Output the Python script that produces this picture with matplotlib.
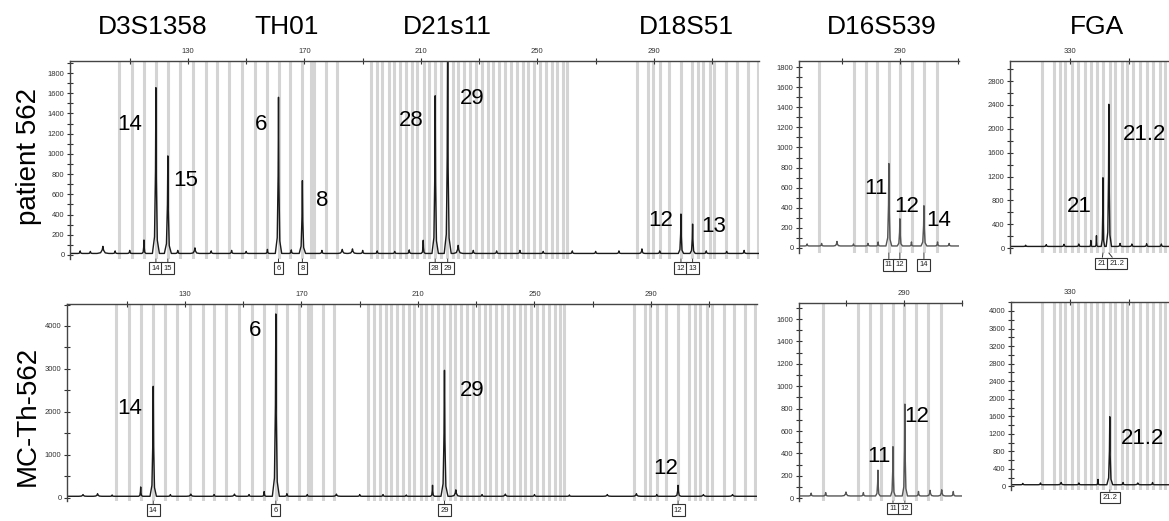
import matplotlib
matplotlib.use("Agg")
import matplotlib.pyplot as plt

plt.rcParams['font.family'] = ['Liberation Sans', 'DejaVu Sans']

W, H = 1169, 521

# ---------------- data ----------------
loci = ["D3S1358", "TH01", "D21s11", "D18S51", "D16S539", "FGA"]
samples = ["patient 562", "MC-Th-562"]

# ladder bins (bp)
bins_main = [106.3, 110.8, 114.9, 119.0, 123.1, 127.3, 131.7, 136.2, 140.0, 144.1, 148.6,
             153.0, 157.1, 161.3, 165.0, 169.2, 172.3, 173.4, 177.4, 181.2,
             192.9, 194.9, 196.8, 198.9, 200.9, 202.8, 204.9, 206.9, 208.8, 210.9, 212.9,
             214.9, 216.8, 218.9, 220.9, 222.8, 224.9, 226.9, 228.8, 230.9, 232.9, 234.8,
             236.9, 238.9, 240.8, 242.9, 244.9, 246.8, 248.9, 250.9, 252.8, 254.9, 256.9,
             258.8, 260.3,
             284.3, 288.1, 289.8, 292.2, 295.3, 299.4, 303.2, 305.2, 307.0, 309.4, 310.8,
             314.9, 318.4, 322.2, 325.6]
bins_d16 = [262.1, 274.1, 278.3, 282.1, 286.2, 290.0, 294.1, 298.3, 302.8]
bins_fga = [320.5, 324.6, 326.6, 328.3, 330.7, 332.7, 335.1, 337.1, 339.2, 341.2, 343.6,
            345.3, 347.6, 349.3, 351.4, 353.7, 356.1, 358.1, 360.5, 362.2, 364.4]

# peaks: position (bp), height (RFU), half width (bp)
top_main_pos = [93.0, 96.5, 100.8, 105.0, 110.0, 114.9, 119.0, 123.1, 126.5, 132.4, 138.0,
                145.0, 150.0, 157.3, 161.1, 165.5, 169.3, 176.0, 183.0, 186.5, 190.0, 195.0,
                201.0, 206.0, 210.8, 214.9, 219.2, 222.8, 228.0, 236.0, 244.0, 252.0, 262.0,
                270.0, 278.0, 285.9, 292.0, 299.3, 303.3, 308.0, 315.0, 321.0]
top_main_h = [25, 20, 70, 25, 30, 133, 1640, 965, 30, 55, 25,
              30, 20, 40, 1545, 35, 720, 30, 40, 45, 30, 25,
              20, 35, 130, 1560, 1900, 80, 30, 25, 30, 20, 25,
              20, 25, 45, 25, 390, 290, 25, 20, 30]
top_main_w = [0.8, 0.8, 2.0, 0.8, 0.8, 0.7, 1.2, 1.2, 0.8, 1.5, 0.8,
              0.8, 0.8, 0.7, 1.1, 0.8, 1.1, 0.8, 1.5, 1.5, 0.8, 0.8,
              0.8, 0.8, 0.7, 1.1, 1.2, 1.6, 0.8, 0.8, 0.8, 0.8, 0.8,
              0.8, 0.8, 1.0, 0.8, 0.9, 0.9, 0.8, 0.8, 0.8]

bot_main_pos = [95.0, 100.0, 105.0, 114.8, 119.1, 125.0, 132.0, 140.0, 147.0, 152.0,
                157.2, 161.2, 165.0, 172.0, 182.0, 190.0, 198.0, 206.0, 215.0, 219.1,
                223.0, 232.0, 240.0, 250.0, 262.0, 275.0, 285.0, 292.0, 299.3, 308.0, 318.0]
bot_main_h = [40, 60, 30, 217, 2563, 40, 50, 40, 50, 40,
              110, 4250, 60, 40, 50, 40, 40, 30, 256, 2936,
              150, 40, 50, 40, 30, 40, 60, 40, 256, 40, 40]
bot_main_w = [1.5, 1.5, 0.8, 0.7, 1.1, 0.8, 1.5, 0.8, 1.5, 0.8,
              0.7, 1.2, 0.8, 0.8, 1.5, 0.8, 0.8, 0.8, 0.7, 1.2,
              1.6, 0.8, 1.5, 0.8, 0.8, 1.5, 1.5, 0.8, 1.0, 1.5, 1.5]

top_d16_pos = [258.0, 263.0, 268.3, 274.0, 279.0, 282.5, 286.2, 290.0, 294.0, 298.3, 303.0, 307.0]
top_d16_h = [20, 25, 45, 20, 25, 40, 820, 270, 40, 400, 40, 25]
top_d16_w = [0.8, 0.8, 1.2, 0.8, 0.8, 0.6, 1.0, 0.9, 0.6, 1.0, 0.8, 0.8]

bot_d16_pos = [258.0, 263.0, 270.0, 276.0, 281.0, 286.2, 290.3, 295.0, 299.0, 303.0, 307.0]
bot_d16_h = [25, 30, 35, 30, 230, 440, 820, 40, 50, 55, 40]
bot_d16_w = [0.8, 0.8, 1.5, 0.8, 0.8, 0.8, 0.9, 0.8, 1.2, 1.2, 0.8]

top_fga_pos = [315.0, 322.0, 328.0, 333.0, 337.1, 339.0, 341.2, 343.2, 347.0, 351.0, 356.0, 361.0]
top_fga_h = [20, 30, 35, 40, 100, 180, 1150, 2380, 50, 40, 45, 40]
top_fga_w = [0.8, 0.8, 0.8, 0.8, 0.4, 0.4, 0.6, 0.9, 0.8, 0.8, 0.8, 0.8]

bot_fga_pos = [314.0, 320.0, 327.0, 333.0, 339.5, 343.5, 348.0, 353.0, 358.0]
bot_fga_h = [30, 40, 50, 40, 120, 1550, 50, 40, 50]
bot_fga_w = [0.8, 0.8, 1.2, 0.8, 0.5, 1.0, 0.8, 1.2, 0.8]

# called alleles: label and size
top_main_alleles = ["14", "15", "6", "8", "28", "29", "12", "13"]
top_main_allele_bp = [119.0, 123.1, 161.1, 169.3, 214.9, 219.2, 299.3, 303.3]
bot_main_alleles = ["14", "6", "29", "12"]
bot_main_allele_bp = [119.1, 161.2, 219.1, 299.3]
top_d16_alleles = ["11", "12", "14"]
top_d16_allele_bp = [286.2, 290.0, 298.3]
bot_d16_alleles = ["11", "12"]
bot_d16_allele_bp = [286.2, 290.3]
top_fga_alleles = ["21", "21.2"]
top_fga_allele_bp = [341.2, 343.2]
bot_fga_alleles = ["21.2"]
bot_fga_allele_bp = [343.5]


def fx(x):
    return x / W


def fy(y):
    return 1 - y / H


def add_axes(fig, left, top, right, bottom):
    return fig.add_axes([fx(left), fy(bottom), fx(right - left), (bottom - top) / H])


def trace(pos, hts, wds, lo, hi, base):
    xs, ys = [lo], [base]
    for p, h, w in sorted(zip(pos, hts, wds)):
        xs += [p - w, p - 0.4 * w, p - 0.12 * w, p, p + 0.12 * w, p + 0.4 * w, p + w]
        ys += [base, base + 0.1 * h, base + 0.5 * h, base + h, base + 0.45 * h, base + 0.08 * h, base]
    xs.append(hi)
    ys.append(base)
    return xs, ys


def panel(ax, xlim, ylim, ystep, yminor, xlab, xmin, bins, pos, hts, wds, base,
          alleles, allele_bp, color, box_off, box_dx=None):
    ax.set_xlim(*xlim)
    ax.set_ylim(*ylim)
    for b in bins:
        ax.axvline(b, color='#d4d4d4', lw=2.2, zorder=0)
    xs, ys = trace(pos, hts, wds, xlim[0], xlim[1], base)
    ax.plot(xs, ys, color=color, lw=1.0, zorder=2)
    for s in ['bottom', 'right']:
        ax.spines[s].set_visible(False)
    for s in ['top', 'left']:
        ax.spines[s].set_color('#444444')
        ax.spines[s].set_linewidth(1.0)
    ax.xaxis.tick_top()
    ax.set_xticks(xlab)
    ax.set_xticks(xmin, minor=True)
    ax.set_yticks(list(range(0, int(ylim[1]) + 1, ystep)))
    ax.set_yticks(list(range(yminor, int(ylim[1]) + 1, ystep)), minor=True)
    ax.tick_params(axis='both', which='both', direction='inout', length=5, width=0.8,
                   labelsize=5.5, colors='#333333', pad=1.5)
    ax.set_facecolor('none')
    for i, (lbl, bp) in enumerate(zip(alleles, allele_bp)):
        dx = 0 if box_dx is None else box_dx[i]
        ax.annotate(lbl, xy=(bp, 0), xycoords=ax.get_xaxis_transform(),
                    xytext=(dx, -box_off), textcoords='offset points',
                    ha='center', va='top', fontsize=5.5, color='#222222',
                    bbox=dict(boxstyle='square,pad=0.3', fc='white', ec='#333333', lw=0.8),
                    arrowprops=dict(arrowstyle='-', lw=0.7, color='#333333',
                                    shrinkA=0, shrinkB=0),
                    annotation_clip=False)


fig = plt.figure(figsize=(W / 100, H / 100), dpi=100)

ax1 = add_axes(fig, 70, 61, 759, 259)
panel(ax1, (89.5, 326.1), (-40, 1919), 200, 100, [130, 170, 210, 250, 290],
      [110, 150, 190, 230, 270, 310], bins_main, top_main_pos, top_main_h, top_main_w, 15,
      top_main_alleles, top_main_allele_bp, '#1a1a1a', 4)

ax2 = add_axes(fig, 67, 304, 757, 501)
panel(ax2, (89.5, 326.4), (-80, 4512), 1000, 500, [130, 170, 210, 250, 290],
      [110, 150, 190, 230, 270, 310], bins_main, bot_main_pos, bot_main_h, bot_main_w, 30,
      bot_main_alleles, bot_main_allele_bp, '#1a1a1a', 4)

ax3 = add_axes(fig, 799, 61, 959, 253)
panel(ax3, (255.2, 310.4), (-50, 1860), 200, 100, [290], [270, 310],
      bins_d16, top_d16_pos, top_d16_h, top_d16_w, 20,
      top_d16_alleles, top_d16_allele_bp, '#555555', 6)

ax4 = add_axes(fig, 799, 303, 962, 501)
panel(ax4, (253.8, 310.0), (-25, 1743), 200, 100, [290], [270, 310],
      bins_d16, bot_d16_pos, bot_d16_h, bot_d16_w, 20,
      bot_d16_alleles, bot_d16_allele_bp, '#555555', 3)

ax5 = add_axes(fig, 1010, 61, 1190, 253)
panel(ax5, (309.7, 370.7), (-80, 3135), 400, 200, [330], [350, 370],
      bins_fga, top_fga_pos, top_fga_h, top_fga_w, 30,
      top_fga_alleles, top_fga_allele_bp, '#1a1a1a', 5, box_dx=[-1, 6])

ax6 = add_axes(fig, 1011, 302, 1190, 490)
panel(ax6, (310.0, 370.7), (-80, 4205), 400, 200, [330], [350, 370],
      bins_fga, bot_fga_pos, bot_fga_h, bot_fga_w, 40,
      bot_fga_alleles, bot_fga_allele_bp, '#1a1a1a', 3)

# locus titles
for name, x in zip(loci, [153, 287, 447, 686, 882, 1097]):
    fig.text(fx(x), fy(27), name, fontsize=19, ha='center', va='center')

# sample names
fig.text(fx(29), fy(157), samples[0], fontsize=20, rotation=90, ha='center', va='center')
fig.text(fx(28), fy(416), samples[1], fontsize=20, rotation=90, ha='center', va='center')

# peak labels
peak_labels = ["14", "15", "6", "8", "28", "29", "12", "13", "11", "12", "14", "21", "21.2",
               "14", "6", "29", "12", "11", "12", "21.2"]
label_px = [(130, 125), (186, 180), (261, 125), (322, 200), (411, 121), (472, 98),
            (661, 220), (714, 227), (876, 188), (907, 207), (939, 221), (1079, 207),
            (1145, 134),
            (130, 409), (255, 330), (472, 390), (666, 468), (879, 457), (917, 417),
            (1143, 438)]
for lbl, (x, y) in zip(peak_labels, label_px):
    fig.text(fx(x), fy(y), lbl, fontsize=16, ha='center', va='center')

fig.savefig("out.png", dpi=100)
